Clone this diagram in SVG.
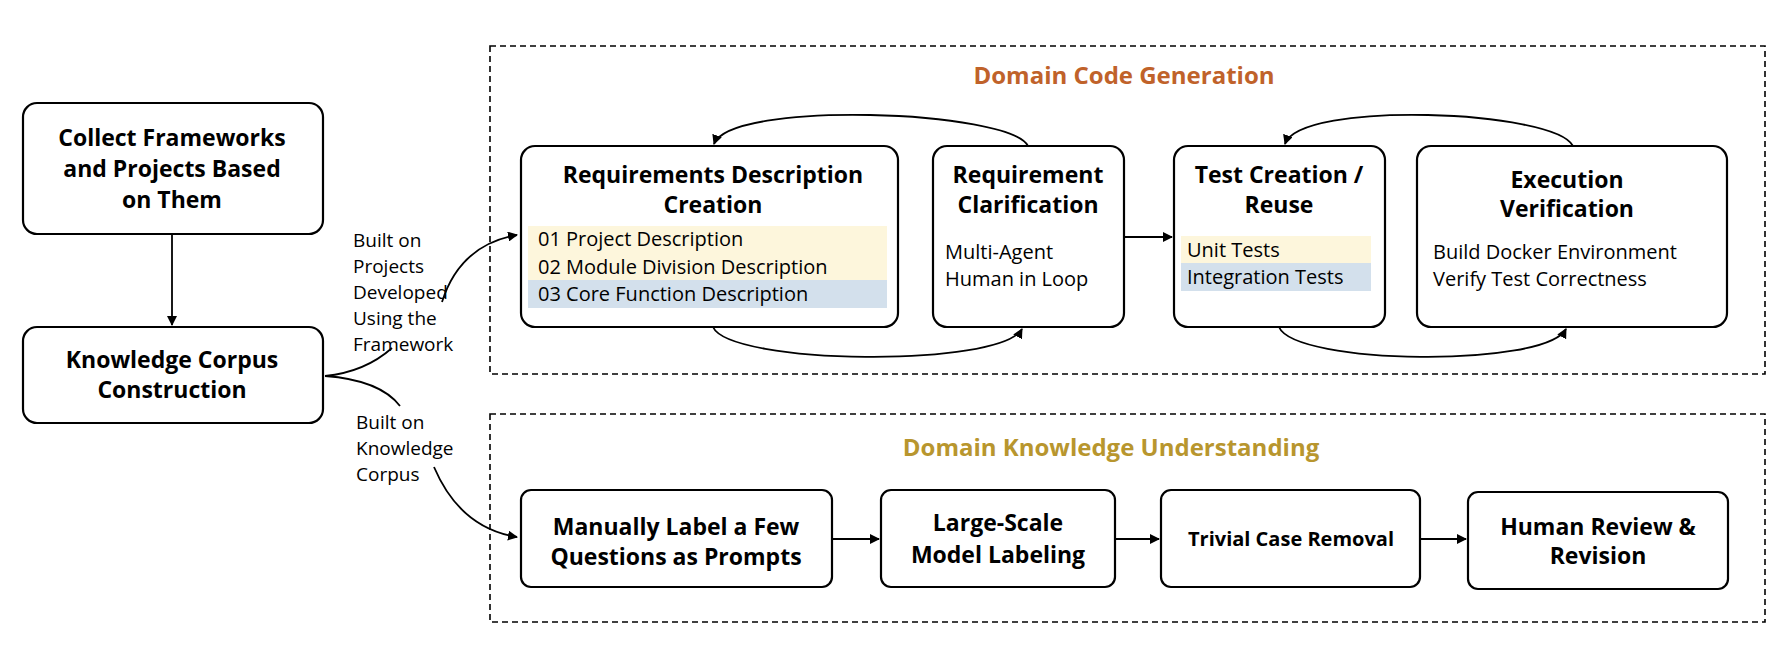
<svg xmlns="http://www.w3.org/2000/svg" width="1788" height="656" viewBox="0 0 1788 656">
<defs>
<marker id="ah" viewBox="0 0 10 10" refX="9" refY="5" markerWidth="10" markerHeight="10" markerUnits="userSpaceOnUse" orient="auto"><path d="M0,0 L10,5 L0,10 z" fill="#000"/></marker>
<style>
.box{fill:#fff;stroke:#000;stroke-width:2.2}
.dash{fill:none;stroke:#000;stroke-width:1.6;stroke-dasharray:6,4}
.t{font-family:"Open Sans","Noto Sans",sans-serif;font-weight:bold;font-size:23px;fill:#000;text-anchor:middle}
.n{font-family:"Open Sans","Noto Sans",sans-serif;font-size:20px;fill:#000}
.s{font-family:"Open Sans","Noto Sans",sans-serif;font-size:19px;fill:#000}
.c{fill:none;stroke:#000;stroke-width:1.8}
.y{fill:#fdf6dc}.b{fill:#d3e0ec}
</style>
</defs>
<rect class="dash" x="490" y="46" width="1275" height="328"/>
<rect class="dash" x="490" y="414" width="1275" height="208"/>
<text class="t" x="1124" y="84" style="fill:#c0622a;font-size:24px">Domain Code Generation</text>
<text class="t" x="1111" y="456" style="fill:#b8962e;font-size:24px">Domain Knowledge Understanding</text>
<g id="collect"><rect class="box" x="23" y="103" width="300" height="131" rx="14"/>
<text class="t" x="172" y="146">Collect Frameworks</text><text class="t" x="172" y="177">and Projects Based</text><text class="t" x="172" y="208">on Them</text></g>
<g id="corpus"><rect class="box" x="23" y="327" width="300" height="96" rx="14"/>
<text class="t" x="172" y="368">Knowledge Corpus</text><text class="t" x="172" y="398">Construction</text></g>
<g id="reqdesc"><rect class="box" x="521" y="146" width="377" height="181" rx="14"/>
<text class="t" x="713" y="183">Requirements Description</text><text class="t" x="713" y="213">Creation</text>
<rect class="y" x="528" y="226" width="359" height="27"/><rect class="y" x="528" y="253" width="359" height="27"/><rect class="b" x="528" y="280" width="359" height="28"/>
<text class="n" x="538" y="246">01 Project Description</text><text class="n" x="538" y="274">02 Module Division Description</text><text class="n" x="538" y="301">03 Core Function Description</text></g>
<g id="clarif"><rect class="box" x="933" y="146" width="191" height="181" rx="14"/>
<text class="t" x="1028" y="183">Requirement</text><text class="t" x="1028" y="213">Clarification</text>
<text class="n" x="945" y="259">Multi-Agent</text><text class="n" x="945" y="286">Human in Loop</text></g>
<g id="test"><rect class="box" x="1174" y="146" width="211" height="181" rx="14"/>
<text class="t" x="1279" y="183">Test Creation /</text><text class="t" x="1279" y="213">Reuse</text>
<rect class="y" x="1181" y="236" width="190" height="27"/><rect class="b" x="1181" y="263" width="190" height="28"/>
<text class="n" x="1187" y="257">Unit Tests</text><text class="n" x="1187" y="284">Integration Tests</text></g>
<g id="exec"><rect class="box" x="1417" y="146" width="310" height="181" rx="14"/>
<text class="t" x="1567" y="188">Execution</text><text class="t" x="1567" y="217">Verification</text>
<text class="n" x="1433" y="259">Build Docker Environment</text><text class="n" x="1433" y="286">Verify Test Correctness</text></g>
<g id="manual"><rect class="box" x="521" y="490" width="311" height="97" rx="10"/>
<text class="t" x="676" y="535">Manually Label a Few</text><text class="t" x="676" y="565">Questions as Prompts</text></g>
<g id="large"><rect class="box" x="881" y="490" width="234" height="97" rx="10"/>
<text class="t" x="998" y="531">Large-Scale</text><text class="t" x="998" y="563">Model Labeling</text></g>
<g id="trivial"><rect class="box" x="1161" y="490" width="259" height="97" rx="10"/>
<text class="t" x="1291" y="546" style="font-size:20px">Trivial Case Removal</text></g>
<g id="human"><rect class="box" x="1468" y="492" width="260" height="97" rx="10"/>
<text class="t" x="1598" y="535">Human Review &amp;</text><text class="t" x="1598" y="564">Revision</text></g>
<g id="labels">
<text class="s" x="353" y="247">Built on</text><text class="s" x="353" y="273">Projects</text><text class="s" x="353" y="299">Developed</text><text class="s" x="353" y="325">Using the</text><text class="s" x="353" y="351">Framework</text>
<text class="s" x="356" y="429">Built on</text><text class="s" x="356" y="455">Knowledge</text><text class="s" x="356" y="481">Corpus</text>
</g>
<g id="connectors">
<path class="c" d="M172,234 V325" marker-end="url(#ah)"/>
<path class="c" d="M325,376 Q365,372 392,348"/>
<path class="c" d="M442,302 Q460,245 517,235" marker-end="url(#ah)"/>
<path class="c" d="M325,376 Q380,380 400,406"/>
<path class="c" d="M434,467 Q460,528 517,537" marker-end="url(#ah)"/>
<path class="c" d="M1028,146 C1010,110 730,100 714,144" marker-end="url(#ah)"/>
<path class="c" d="M713,327 C730,365 1000,368 1022,329" marker-end="url(#ah)"/>
<path class="c" d="M1124,237 H1172" marker-end="url(#ah)"/>
<path class="c" d="M1573,146 C1555,110 1300,100 1285,144" marker-end="url(#ah)"/>
<path class="c" d="M1279,327 C1295,365 1545,368 1566,329" marker-end="url(#ah)"/>
<path class="c" d="M832,539 H879" marker-end="url(#ah)"/>
<path class="c" d="M1115,539 H1159" marker-end="url(#ah)"/>
<path class="c" d="M1420,539 H1466" marker-end="url(#ah)"/>
</g>
</svg>
